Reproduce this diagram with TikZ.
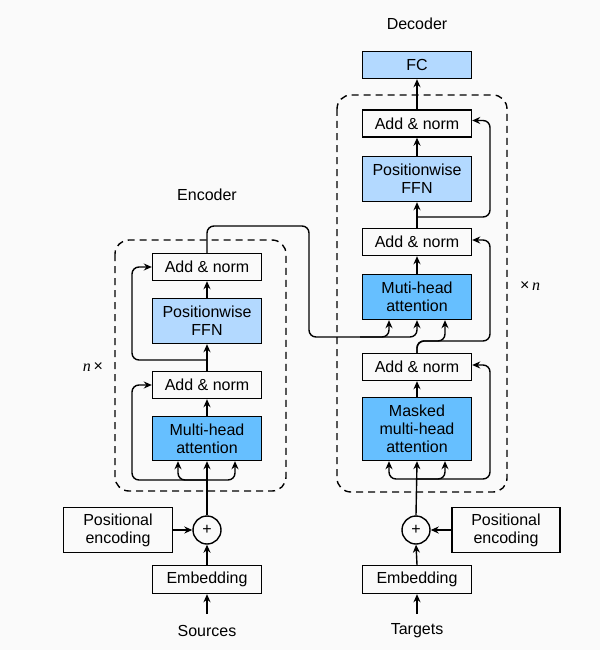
\documentclass[tikz,border=0pt]{standalone}
\usepackage{fontspec}
\setmainfont{Liberation Sans}
\newfontfamily\serifit{Liberation Serif}
\usetikzlibrary{arrows.meta}
\definecolor{lblue}{RGB}{179,217,255}
\definecolor{mblue}{RGB}{102,191,255}
\definecolor{bgc}{RGB}{250,250,250}
\begin{document}
\begin{tikzpicture}[x=1pt,y=-1pt,
  box/.style={draw,line width=1.4pt,minimum width=109pt,minimum height=27pt,inner sep=0pt,align=center,font=\fontsize{16}{18}\selectfont},
  lbl/.style={inner sep=0pt,font=\fontsize{16}{18}\selectfont},
  circ/.style={draw,circle,line width=1.4pt,minimum size=28pt,inner sep=0pt,font=\fontsize{16}{16}\selectfont},
  arr/.style={line width=1.4pt,-{Stealth[length=8pt,width=7pt]}},
  rc/.style={rounded corners=7pt},
  dashbox/.style={line width=1.4pt,dash pattern=on 7pt off 5pt,rounded corners=14pt}]
\fill[bgc] (0,0) rectangle (600,650);
\useasboundingbox (0,0) rectangle (600,650);
% ---------- Encoder ----------
\draw[dashbox] (115,240) rectangle (286,491);
\node[box] (eAN2) at (207,267) {Add \& norm};
\node[box,fill=lblue,minimum height=45pt] (eFFN) at (207,321) {Positionwise\\FFN};
\node[box] (eAN1) at (207,385) {Add \& norm};
\node[box,fill=mblue,minimum height=44pt] (eMHA) at (207,438.5) {Multi-head\\attention};
\node[circ] (ePlus) at (207,530) {+};
\node[box,minimum height=45pt] (ePE) at (118,530) {Positional\\encoding};
\node[box,minimum height=28pt] (eEmb) at (207,579.5) {Embedding};
\node[lbl] (src) at (207,631) {Sources};
\node[lbl] (encL) at (207,195) {Encoder};
\node[lbl] (nL) at (93,367) {{\serifit\itshape n}\,×};
\coordinate (srcTop) at (207,614);
\coordinate (ej1) at (207,480);
\coordinate (ej2) at (207,360);
\coordinate (ej3) at (360,337);
\draw[arr] (srcTop) -- (eEmb.south);
\draw[arr] (eEmb.north) -- (ePlus.south);
\draw[arr] (ePE.east) -- (ePlus.west);
\draw[arr] (ePlus.north) -- (eMHA.south);
\draw[arr,rc] (ej1) -| ([xshift=-29pt]eMHA.south);
\draw[arr,rc] (ej1) -| ([xshift=28pt]eMHA.south);
\draw[arr,rc] (ej1) -- (132,480) |- (eAN1.west);
\draw[arr] (eMHA.north) -- (eAN1.south);
\draw[arr] (eAN1.north) -- (eFFN.south);
\draw[arr,rc] (ej2) -- (132,360) |- (eAN2.west);
\draw[arr] (eFFN.north) -- (eAN2.south);
% ---------- Decoder ----------
\draw[dashbox] (337,95) rectangle (507,492);
\node[box,fill=lblue] (fc) at (417,65) {FC};
\node[box] (dAN3) at (417,123.5) {Add \& norm};
\node[box,fill=lblue,minimum height=45pt] (dFFN) at (417,179) {Positionwise\\FFN};
\node[box] (dAN2) at (417,242) {Add \& norm};
\node[box,fill=mblue,minimum height=45pt] (dMHA) at (417,297) {Muti-head\\attention};
\node[box] (dAN1) at (417,367) {Add \& norm};
\node[box,fill=mblue,minimum height=63pt] (dMMHA) at (417,429) {Masked\\multi-head\\attention};
\node[circ] (dPlus) at (416,530) {+};
\node[box,minimum height=45pt,minimum width=108pt] (dPE) at (506,530) {Positional\\encoding};
\node[box,minimum height=28pt] (dEmb) at (417,579.5) {Embedding};
\node[lbl] (tgt) at (417,631) {Targets};
\node[lbl] (decL) at (417,24) {Decoder};
\node[lbl] (nR) at (530,286) {×\,{\serifit\itshape n}};
\coordinate (tgtTop) at (417,614);
\coordinate (dj1) at (417,479);
\coordinate (dj2) at (417,217);
\draw[arr] (tgtTop) -- (dEmb.south);
\draw[arr] (dEmb.north) -- (dPlus.south);
\draw[arr] (dPE.west) -- (dPlus.east);
\draw[arr] (dPlus.north) -- (dMMHA.south);
\draw[arr,rc] (dj1) -| ([xshift=-28pt]dMMHA.south);
\draw[arr,rc] (dj1) -| ([xshift=28pt]dMMHA.south);
\draw[arr,rc] (dj1) -- (490,479) |- ([yshift=2pt]dAN1.east);
\draw[arr] (dMMHA.north) -- (dAN1.south);
\draw[arr,rc] (dAN1.north) |- (490,341) |- ([yshift=2pt]dAN2.east);
\draw[arr,rc] (dAN1.north) |- (445,341) -- ([xshift=28pt]dMHA.south);
\draw[arr] (dMHA.north) -- (dAN2.south);
\draw[arr] (dAN2.north) -- (dFFN.south);
\draw[arr,rc] (dj2) -- (490,217) |- ([yshift=3pt]dAN3.east);
\draw[arr] (dFFN.north) -- (dAN3.south);
\draw[arr] (dAN3.north) -- (fc.south);
% ---------- Encoder to decoder ----------
\draw[arr,rc] (eAN2.north) -- (207,226) -- (309,226) -- (309,337) -| ([xshift=-28pt]dMHA.south);
\draw[arr,rc] (ej3) -| (dMHA.south);
\end{tikzpicture}
\end{document}
